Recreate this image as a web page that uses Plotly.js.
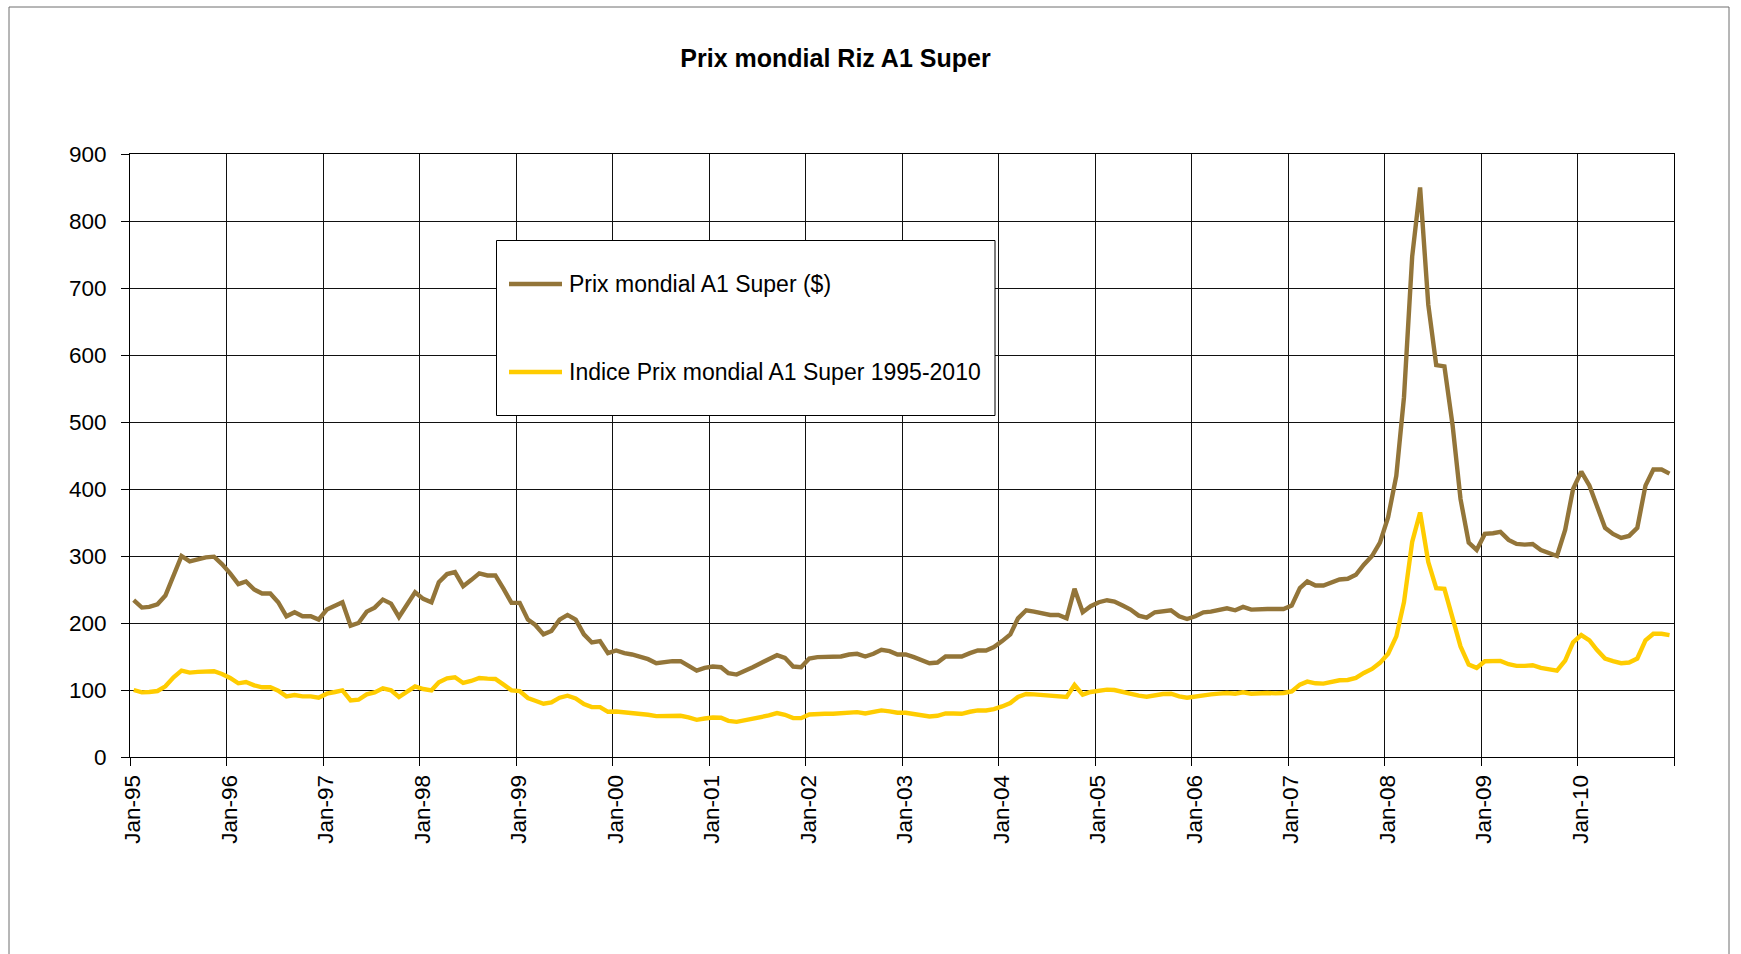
<!DOCTYPE html>
<html>
<head>
<meta charset="utf-8">
<script src="https://cdn.plot.ly/plotly-3.0.1.min.js"></script>
<style>html,body{margin:0;padding:0;background:#fff;}#chart{width:1741px;height:954px;}</style>
</head>
<body>
<div id="chart"></div>
<script>
// ---- data ----
const years = ['1995','1996','1997','1998','1999','2000','2001','2002','2003','2004','2005','2006','2007','2008','2009','2010'];
const monthKeys = ['01','02','03','04','05','06','07','08','09','10','11','12'];

const seriesNames = ['Prix mondial A1 Super ($)', 'Indice Prix mondial A1 Super 1995-2010'];

const prixMondial = [
  234,223,224,228,241,273,300,292,295,298,299,288,
  274,258,262,250,244,244,231,210,216,210,210,205,
  220,226,231,196,200,217,223,235,229,209,227,246,
  236,231,261,273,276,255,264,274,271,271,251,230,
  230,205,197,183,188,205,212,205,183,171,173,155,
  159,155,153,149,146,140,142,143,143,136,129,133,
  135,134,125,123,128,134,140,146,152,148,135,134,
  147,149,149,149,150,153,154,150,154,160,158,153,
  153,149,144,140,141,150,150,150,155,159,159,164,
  173,183,207,219,217,215,212,212,207,251,216,225,
  231,234,232,226,220,211,208,216,218,219,210,206,
  210,216,217,219,222,219,224,220,221,221,221,221,
  226,252,262,256,256,261,265,266,272,287,300,320,
  358,420,537,747,850,675,585,583,495,385,320,309,
  333,334,336,324,318,317,318,309,305,300,339,400,
  426,405,375,342,333,327,330,342,405,429,429,423
];

const indicePrix = [
  100,96.5,97,98.5,105.5,119,129,126,127,128,128,124,
  118,110,112,107,104,104,99,90.5,92.5,90.5,90.5,88.5,
  94.5,97,99.5,84.5,85.5,93.5,96.5,102.5,99.5,89.5,98,105.5,
  101.5,99.5,111.5,117.5,119,110.5,113.5,118,117,116.5,108,99.5,
  98.5,88,84,79.5,81.5,88.5,91.5,87.5,79,74.5,74.5,67.5,
  68,67,65.5,64,63,61,61.5,61.5,61.5,59,55.5,57.5,
  59,58.5,54,52.5,54.5,57.5,59.5,62,65.5,63,58,58,
  63.5,64.5,64.5,64.5,65.5,66.5,67,65,67,69.5,68,66,
  66,64,62,60.5,61.5,65,65,64.5,67.5,69.5,69.5,71.5,
  75.5,80.5,89.5,94,93.5,92.5,91.5,91.5,89.5,107.5,93,97,
  99.5,100.5,100,97,94.5,91.5,90,92.5,94,94.5,90.5,88.5,
  90.5,93,93.5,94.5,95.5,94.5,96.5,94.5,95.5,95.5,95,95.5,
  98,108,112.5,110,109.5,112.5,114.5,115,118,125.5,131.5,140.5,
  154,180,231,321,365,291,252,251,206,165,138,133,
  143,143.5,143.5,138.5,136,136,137,133,131,129,144,171,
  182,174,160,147,143,140,141,147,174,184,184,182
];

const xTickVals = ['1995-01-01','1996-01-01','1997-01-01','1998-01-01','1999-01-01','2000-01-01','2001-01-01','2002-01-01','2003-01-01','2004-01-01','2005-01-01','2006-01-01','2007-01-01','2008-01-01','2009-01-01','2010-01-01','2011-01-01'];
const xTickText = ['Jan-95','Jan-96','Jan-97','Jan-98','Jan-99','Jan-00','Jan-01','Jan-02','Jan-03','Jan-04','Jan-05','Jan-06','Jan-07','Jan-08','Jan-09','Jan-10',''];
const yTickVals = [0,100,200,300,400,500,600,700,800,900];

const titleText = 'Prix mondial Riz A1 Super';

// monthly dates (mid-month) built from the year / month lists
const dates = [];
years.forEach(y => monthKeys.forEach(m => dates.push(y + '-' + m + '-15')));

// ---- layout ----
const W = 1741, H = 954;
const M = {l: 130, r: 67, t: 154, b: 197};
const PW = W - M.l - M.r, PH = H - M.t - M.b;
const px = X => (X - M.l) / PW;
const py = Y => (H - M.b - Y) / PH;

const colors = ['#937539', '#FFCC00'];
const FONT = 'Liberation Sans, Arial, Helvetica, sans-serif';

const traces = [
  {x: dates, y: prixMondial, name: seriesNames[0], type: 'scatter', mode: 'lines',
   line: {color: colors[0], width: 4.4}, hoverinfo: 'x+y'},
  {x: dates, y: indicePrix, name: seriesNames[1], type: 'scatter', mode: 'lines',
   line: {color: colors[1], width: 4.4}, hoverinfo: 'x+y'}
];

const shapes = [
  // outer chart border
  {type: 'rect', xref: 'paper', yref: 'paper', x0: px(9), x1: px(1729), y0: py(7), y1: py(990),
   line: {color: '#6f6f6f', width: 1}, fillcolor: 'rgba(0,0,0,0)', layer: 'below'},
  // legend box (white, hides the grid behind it)
  {type: 'rect', xref: 'paper', yref: 'paper', x0: px(496.5), x1: px(995), y0: py(415.5), y1: py(240.5),
   line: {color: '#000', width: 1}, fillcolor: '#fff', layer: 'above'},
  // legend samples
  {type: 'line', xref: 'paper', yref: 'paper', x0: px(509), x1: px(562), y0: py(284), y1: py(284),
   line: {color: colors[0], width: 4.4}, layer: 'above'},
  {type: 'line', xref: 'paper', yref: 'paper', x0: px(509), x1: px(562), y0: py(372), y1: py(372),
   line: {color: colors[1], width: 4.4}, layer: 'above'}
];

const annotations = [
  {xref: 'paper', yref: 'paper', x: px(567), y: py(284), xanchor: 'left', yanchor: 'middle',
   text: seriesNames[0], showarrow: false, font: {family: FONT, size: 23, color: '#000'}},
  {xref: 'paper', yref: 'paper', x: px(567), y: py(372), xanchor: 'left', yanchor: 'middle',
   text: seriesNames[1], showarrow: false, font: {family: FONT, size: 23, color: '#000'}}
];

const layout = {
  width: W, height: H,
  margin: M,
  paper_bgcolor: '#fff', plot_bgcolor: '#fff',
  showlegend: false,
  font: {family: FONT, size: 22, color: '#000'},
  title: {text: '<b>' + titleText + '</b>', font: {family: FONT, size: 25, color: '#000'},
          xref: 'paper', x: px(835.5), xanchor: 'center', yref: 'container', y: 1 - 58.5 / H, yanchor: 'middle'},
  xaxis: {
    type: 'date', range: ['1995-01-01', '2011-01-01'],
    tickmode: 'array', tickvals: xTickVals, ticktext: xTickText,
    tickangle: -90, ticks: 'outside', ticklen: 8, tickcolor: '#000', tickwidth: 1, ticklabelshift: 3,
    showgrid: true, gridcolor: '#111', gridwidth: 1,
    showline: true, linecolor: '#000', linewidth: 1, mirror: true,
    zeroline: false, tickfont: {family: FONT, size: 22.5, color: '#000'}, fixedrange: true
  },
  yaxis: {
    range: [0, 900], tickmode: 'array', tickvals: yTickVals,
    ticks: 'outside', ticklen: 8, tickcolor: '#000', tickwidth: 1, ticklabelstandoff: 10,
    showgrid: true, gridcolor: '#111', gridwidth: 1,
    showline: true, linecolor: '#000', linewidth: 1, mirror: true,
    zeroline: false, tickfont: {family: FONT, size: 22.5, color: '#000'}, fixedrange: true
  },
  shapes: shapes,
  annotations: annotations
};

Plotly.newPlot('chart', traces, layout, {displayModeBar: false, staticPlot: true});
</script>
</body>
</html>
